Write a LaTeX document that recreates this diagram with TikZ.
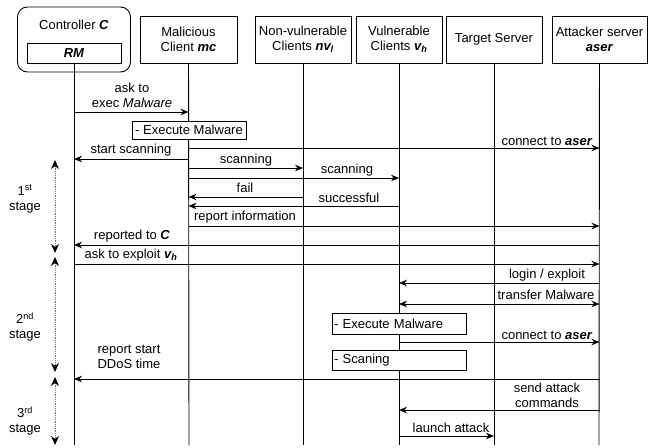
\documentclass[tikz,border=0pt]{standalone}
\usepackage{fontspec}
\setmainfont{Liberation Sans}
\usetikzlibrary{arrows.meta}

\begin{document}
\begin{tikzpicture}[x=1pt,y=-1pt,font=\fontsize{13}{15}\selectfont]
\tikzstyle{actor}=[rectangle, draw, line width=.9pt, fill=white, minimum width=96pt, minimum height=47pt, align=center, inner sep=1pt];
\tikzstyle{lifeline}=[draw, line width=.9pt];
\tikzstyle{msg}=[draw, line width=.9pt, -{Stealth[length=8pt,width=6.5pt]}];
\tikzstyle{msg_both}=[draw, line width=.9pt, {Stealth[length=8pt,width=6.5pt]}-{Stealth[length=8pt,width=6.5pt]}];
\tikzstyle{msg_text}=[align=center, inner sep=0pt];
\tikzstyle{action}=[rectangle, draw, line width=.9pt, fill=white, inner xsep=2pt, inner ysep=0pt, minimum height=20pt];
\tikzstyle{stage_arrow}=[draw, line width=.9pt, dash pattern=on .9pt off .9pt, color=black!55, {Stealth[length=9pt,width=8pt,black]}-{Stealth[length=9pt,width=8pt,black]}];
\useasboundingbox (0,0) rectangle (658,447);
\coordinate (rm_end) at (74,445);
\coordinate (mc_end) at (189,445);
\coordinate (nvl_end) at (303,445);
\coordinate (vh_end) at (399,445);
\coordinate (ts_end) at (494,445);
\coordinate (aser_end) at (599,445);
\coordinate (r_exec) at (0,112);
\coordinate (r_conn1) at (0,148);
\coordinate (r_start) at (0,159);
\coordinate (r_scan1) at (0,168);
\coordinate (r_scan2) at (0,178);
\coordinate (r_fail) at (0,197);
\coordinate (r_succ) at (0,206);
\coordinate (r_report) at (0,226);
\coordinate (r_reported) at (0,245);
\coordinate (r_exploit) at (0,264);
\coordinate (r_login) at (0,283);
\coordinate (r_transfer) at (0,304);
\coordinate (r_conn2) at (0,342);
\coordinate (r_ddos) at (0,379);
\coordinate (r_attack) at (0,410);
\coordinate (r_launch) at (0,436);
\coordinate (s1_top) at (55,160);
\coordinate (s1_bot) at (55,253);
\coordinate (s2_top) at (55,257);
\coordinate (s2_bot) at (55,372);
\coordinate (s3_top) at (55,377);
\coordinate (s3_bot) at (55,445);
\node (ctrl) at (74,39.5) [rectangle, draw, line width=.9pt, rounded corners=10pt, minimum width=113pt, minimum height=65pt] {};
\node (ctrl_label) at (74,25) [msg_text] {Controller \textbf{\textit{C}}};
\node (rm) at (74,53) [rectangle, draw, line width=.9pt, minimum width=94pt, minimum height=20pt, inner sep=0pt] {\textbf{\textit{RM}}};
\node (mc) at (188.5,39.5) [actor, minimum width=97pt] {Malicious\\Client \textbf{\textit{mc}}};
\node (nvl) at (303,39.5) [actor] {Non-vulnerable\\Clients \textbf{\textit{nv\textsubscript{l}}}};
\node (vh) at (399,39.5) [actor, minimum width=86pt] {Vulnerable\\Clients \textbf{\textit{v\textsubscript{h}}}};
\node (ts) at (494,39.5) [actor] {Target Server};
\node (aser) at (599.5,39.5) [actor, minimum width=95pt] {Attacker server\\\textbf{\textit{aser}}};
\path (rm) -- (rm_end) [lifeline];
\path (mc) -- (mc_end) [lifeline];
\path (nvl) -- (nvl_end) [lifeline];
\path (vh) -- (vh_end) [lifeline];
\path (ts) -- (ts_end) [lifeline];
\path (aser) -- (aser_end) [lifeline];
\path (rm |- r_exec) -- (mc |- r_exec) [msg];
\path (mc |- r_conn1) -- (aser |- r_conn1) [msg];
\path (mc |- r_start) -- (rm |- r_start) [msg];
\path (mc |- r_scan1) -- (nvl |- r_scan1) [msg];
\path (mc |- r_scan2) -- (vh |- r_scan2) [msg];
\path (nvl |- r_fail) -- (mc |- r_fail) [msg];
\path (vh |- r_succ) -- (mc |- r_succ) [msg];
\path (mc |- r_report) -- (aser |- r_report) [msg];
\path (aser |- r_reported) -- (rm |- r_reported) [msg];
\path (rm |- r_exploit) -- (aser |- r_exploit) [msg];
\path (aser |- r_login) -- (vh |- r_login) [msg];
\path (vh |- r_transfer) -- (aser |- r_transfer) [msg_both];
\path (vh |- r_conn2) -- (aser |- r_conn2) [msg];
\path (aser |- r_ddos) -- (rm |- r_ddos) [msg];
\path (aser |- r_attack) -- (vh |- r_attack) [msg];
\path (vh |- r_launch) -- (ts |- r_launch) [msg];
\node (exec_mc) at (189,130) [action, minimum width=114pt, minimum height=18pt] {- Execute Malware};
\node (exec_vh) at (399,323.5) [action, text width=130pt, align=left, minimum height=21pt] {- Execute Malware};
\node (scan_vh) at (399,360) [action, text width=130pt, align=left] {- Scaning};
\node (l_exec) at (132,95) [msg_text] {ask to\\exec \textit{Malware}};
\node (l_start) at (131,150) [msg_text] {start scanning};
\node (l_conn1) at (547,141) [msg_text] {connect to \textbf{\textit{aser}}};
\node (l_scan1) at (246,160) [msg_text] {scanning};
\node (l_scan2) at (347,170) [msg_text] {scanning};
\node (l_fail) at (245,188) [msg_text] {fail};
\node (l_succ) at (349,198) [msg_text] {successful};
\node (l_report) at (245,217) [msg_text] {report information};
\node (l_reported) at (132,236) [msg_text] {reported to \textbf{\textit{C}}};
\node (l_exploit) at (131,255) [msg_text] {ask to exploit \textbf{\textit{v\textsubscript{h}}}};
\node (l_login) at (547,275) [msg_text] {login / exploit};
\node (l_transfer) at (546,295) [msg_text] {transfer Malware};
\node (l_conn2) at (547,335) [msg_text] {connect to \textbf{\textit{aser}}};
\node (l_ddos) at (129,357) [msg_text] {report start\\DDoS time};
\node (l_attack) at (547,395) [msg_text] {send attack\\commands};
\node (l_launch) at (451,428) [msg_text] {launch attack};
\node (stage_1) at (25,199) [msg_text] {1\textsuperscript{st}\\stage};
\node (stage_2) at (25,327) [msg_text] {2\textsuperscript{nd}\\stage};
\node (stage_3) at (25,421) [msg_text] {3\textsuperscript{rd}\\stage};
\path (s1_top) -- (s1_bot) [stage_arrow];
\path (s2_top) -- (s2_bot) [stage_arrow];
\path (s3_top) -- (s3_bot) [stage_arrow];
\end{tikzpicture}
\end{document}
